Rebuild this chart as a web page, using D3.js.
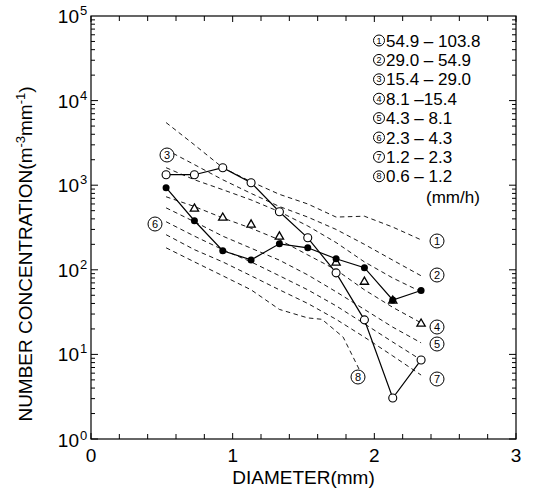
<!DOCTYPE html>
<html><head><meta charset="utf-8">
<script src="https://cdn.jsdelivr.net/npm/d3@7"></script>
<style>body{margin:0;background:#fff}svg{display:block}text{font-family:"Liberation Sans",Arial,Helvetica,sans-serif;fill:#000}</style>
</head><body><svg id="c" width="538" height="490"></svg>
<script>
const diameters = [0.53,0.73,0.93,1.13,1.33,1.53,1.73,1.93,2.13,2.33];
// dashed curves for rain-rate classes 1..8
const class1 = [5500,3000,1610,1100,780,600,420,430,320,226];
const class2 = [2630,1750,1160,800,560,420,300,200,130,85];
const class3 = [1610,1160,885,670,486,330,210,124,80,55];
const class4 = [730,560,410,310,226,150,100,58,36,23.6];
const class5 = [540,370,250,180,130,87,55,34,21,13.7];
const class6 = [370,250,173,124,85,58,37.5,23,14,8.6];
const class7 = [260,173,124,85,58,40,26,16,9.6,5.7];
const class8 = [182,124,85,58,34,27,26,16,5];
const class8x = [0.53,0.73,0.93,1.13,1.33,1.53,1.63,1.78,1.93];
// observed spectra
const openCircles = [1330,1330,1610,1070,486,239,92,25.6,3.05,8.6];
const filledCircles = [934,380,168,131,203,182,135,106,44,57];
const triDiam = [0.73,0.93,1.13,1.33,1.73,1.93,2.13,2.33];
const triangles = [527,412,341,246,121,72,43,23];
const legendLabels = ["54.9 – 103.8","29.0 – 54.9","15.4 – 29.0","8.1 –15.4","4.3 – 8.1","2.3 – 4.3","1.2 – 2.3","0.6 – 1.2"];
const xTicks = [0,1,2,3];
const yDecades = [0,1,2,3,4,5];

const svg = d3.select("#c");
const x = d3.scaleLinear().domain([0,3]).range([91,516]);
const y = d3.scaleLog().domain([1,1e5]).range([439,16]);

// frame
svg.append("rect").attr("x",x(0)).attr("y",y(1e5)).attr("width",x(3)-x(0)).attr("height",y(1)-y(1e5))
  .attr("fill","none").attr("stroke","#000").attr("stroke-width",1.2);

// axis ticks
const minor = [];
for (let d=0; d<5; d++) for (let k=1;k<10;k++) minor.push({v:k*Math.pow(10,d), major:k===1});
const g = svg.append("g").attr("stroke","#000").attr("stroke-width",1);
minor.forEach(t=>{
  const len = t.major?7:4;
  g.append("line").attr("x1",x(0)).attr("x2",x(0)+len).attr("y1",y(t.v)).attr("y2",y(t.v));
  g.append("line").attr("x1",x(3)).attr("x2",x(3)-len).attr("y1",y(t.v)).attr("y2",y(t.v));
});
d3.range(0,3.01,0.2).forEach(v=>{
  const major = Math.abs(v-Math.round(v))<1e-6;
  const len = major?6:5;
  g.append("line").attr("x1",x(v)).attr("x2",x(v)).attr("y1",y(1)).attr("y2",y(1)-len);
  g.append("line").attr("x1",x(v)).attr("x2",x(v)).attr("y1",y(1e5)).attr("y2",y(1e5)+len);
});

// tick labels
xTicks.forEach(v=>{
  svg.append("text").attr("x",x(v)).attr("y",462).attr("text-anchor","middle").attr("font-size",19).text(v);
});
yDecades.forEach(d=>{
  svg.append("text").attr("x",79).attr("y",y(Math.pow(10,d))+(d===0?8:7)).attr("text-anchor","end").attr("font-size",19).text("10");
  svg.append("text").attr("x",80).attr("y",y(Math.pow(10,d))-(d===0?-1:1)).attr("font-size",13).text(d);
});
// axis titles
svg.append("text").attr("x",x(1.5)).attr("y",484).attr("text-anchor","middle").attr("font-size",19).text("DIAMETER(mm)");
const yl = svg.append("text").attr("transform","translate(32,254) rotate(-90)").attr("text-anchor","middle").attr("font-size",19);
yl.append("tspan").text("NUMBER CONCENTRATION(m");
yl.append("tspan").attr("font-size",13).attr("dy",-7).text("-3");
yl.append("tspan").attr("dy",7).text("mm");
yl.append("tspan").attr("font-size",13).attr("dy",-7).text("-1");
yl.append("tspan").attr("dy",7).text(")");

// dashed lines
const line = d3.line().x(d=>x(d[0])).y(d=>y(d[1]));
[class1,class2,class3,class4,class5,class6,class7].forEach(arr=>{
  svg.append("path").attr("d",line(arr.map((v,i)=>[diameters[i],v]))).attr("fill","none")
    .attr("stroke","#000").attr("stroke-width",0.9).attr("stroke-dasharray","4.5,3.5");
});
svg.append("path").attr("d",line(class8.map((v,i)=>[class8x[i],v]))).attr("fill","none")
    .attr("stroke","#000").attr("stroke-width",0.9).attr("stroke-dasharray","4.5,3.5");

// solid series
svg.append("path").attr("d",line(openCircles.map((v,i)=>[diameters[i],v]))).attr("fill","none").attr("stroke","#000").attr("stroke-width",1.2);
svg.append("path").attr("d",line(filledCircles.map((v,i)=>[diameters[i],v]))).attr("fill","none").attr("stroke","#000").attr("stroke-width",1.2);
svg.selectAll(".tri").data(triangles).enter().append("path")
  .attr("d",d3.symbol().type(d3.symbolTriangle).size(30))
  .attr("transform",(d,i)=>`translate(${x(triDiam[i])},${y(d)})`).attr("fill","#fff").attr("stroke","#000").attr("stroke-width",1.3);
svg.selectAll(".fc").data(filledCircles).enter().append("circle")
  .attr("cx",(d,i)=>x(diameters[i])).attr("cy",d=>y(d)).attr("r",3.5).attr("fill","#000");
svg.selectAll(".oc").data(openCircles).enter().append("circle")
  .attr("cx",(d,i)=>x(diameters[i])).attr("cy",d=>y(d)).attr("r",4).attr("fill","#fff").attr("stroke","#000").attr("stroke-width",1.1);

// circled numbers
function circled(cx,cy,n,r,fs){
  svg.append("circle").attr("cx",cx).attr("cy",cy).attr("r",r).attr("fill","#fff").attr("stroke","#000").attr("stroke-width",1);
  svg.append("text").attr("x",cx).attr("y",cy+fs*0.35).attr("text-anchor","middle").attr("font-size",fs).text(n);
}
legendLabels.forEach((s,i)=>{
  const cy = 40.5+i*19.4;
  circled(379,cy,i+1,5.5,9);
  svg.append("text").attr("x",386).attr("y",cy+6).attr("font-size",17).text(s);
});
svg.append("text").attr("x",426).attr("y",202.5).attr("font-size",17).text("(mm/h)");

// curve labels
[[1,437,241],[2,437,275],[4,437,327],[5,437,344],[7,437,379],[3,167,155],[6,155,224],[8,358,377]].forEach(a=>circled(a[1],a[2],a[0],7,11));
</script></body></html>
